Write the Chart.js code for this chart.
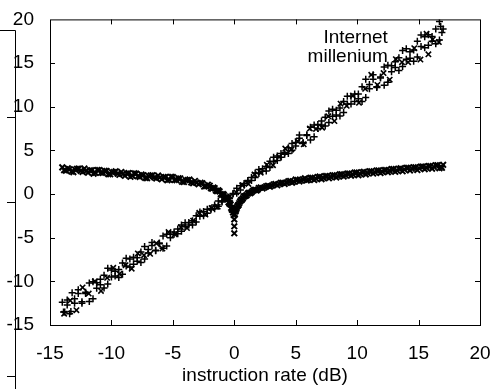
<!DOCTYPE html>
<html>
<head>
<meta charset="utf-8">
<script src="https://cdn.jsdelivr.net/npm/chart.js@4.4.1/dist/chart.umd.min.js"></script>
<style>
  html, body { margin: 0; padding: 0; background: #fff; }
  canvas { display: block; }
</style>
</head>
<body>
<canvas id="chart" width="502" height="389"></canvas>
<script>
// Achsen
const xTitle = "instruction rate (dB)";
const axisMin = -15;
const axisMax = 20;
const tickStep = 5;
const noteLines = ["Internet", "millenium"];
const noteX = 12.5; // Position der Beschriftung in Datenkoordinaten
const noteY = 17.3;

// Diagonale, "+"-Punkte (erste Messreihe)
const diagPlusX = [-14.0, -13.8, -13.6, -13.4, -13.2, -13.0, -12.7, -12.4, -12.1, -11.8, -11.5, -11.2, -10.9, -10.6, -10.3, -10.0,
  -9.7, -9.4, -9.1, -8.8, -8.5, -8.2, -7.9, -7.6, -7.3, -7.0, -6.7, -6.4, -6.1, -5.8, -5.5, -5.2, -4.9, -4.6, -4.3, -4.0,
  -3.7, -3.4, -3.1, -2.8, -2.5, -2.2, -1.9, -1.6, -1.3, -1.0, -0.7, -0.4, -0.1, 0.2, 0.5, 0.8, 1.1, 1.4, 1.7, 2.0,
  2.3, 2.6, 2.9, 3.2, 3.5, 3.8, 4.1, 4.4, 4.7, 5.0, 5.3, 5.6, 5.9, 6.2, 6.5, 6.8, 7.1, 7.4, 7.7, 8.0, 8.3, 8.6,
  8.9, 9.2, 9.5, 9.8, 10.1, 10.4, 10.7, 11.0, 11.3, 11.6, 11.9, 12.2, 12.5, 12.8, 13.1, 13.4, 13.7, 14.0, 14.3,
  14.6, 14.9, 15.2, 15.5, 15.8, 16.1, 16.4, 16.7, 16.9, 16.8, 17.0];
const diagPlusY = [-12.4, -13.5, -12.7, -13.7, -11.3, -12.5, -11.4, -12.5, -11.4, -10.2, -12.0, -10.15, -10.4, -9.3, -10.3, -8.7,
  -9.4, -8.65, -9.2, -7.35, -7.45, -8.05, -7.3, -7.85, -6.0, -6.75, -5.9, -6.5, -5.7, -4.8, -5.95, -4.6, -4.6, -4.0, -4.25, -3.3,
  -3.55, -3.05, -3.2, -2.05, -2.0, -2.2, -1.65, -1.7, -0.8, -0.9, -0.45, -0.5, 0.0, 0.65, 0.45, 1.2, 1.4, 1.9, 1.9, 2.8,
  2.6, 3.15, 3.05, 4.2, 4.35, 4.2, 4.75, 4.65, 5.8, 5.5, 6.4, 5.8, 6.7, 7.65, 6.55, 7.95, 7.9, 8.8, 8.2, 9.7, 9.05, 9.85,
  9.35, 11.2, 11.2, 10.6, 11.45, 10.6, 13.15, 12.05, 13.15, 12.2, 13.3, 14.55, 12.8, 14.7, 14.5, 15.6, 14.6, 16.65, 15.55,
  16.5, 15.7, 18.2, 18.0, 17.05, 18.05, 17.2, 19.75, 18.5, 19.2, 18.9];

// Diagonale, "+"-Punkte (zweite Messreihe)
const diagPlus2X = [-13.9, -13.6, -13.3, -13.0, -12.7, -12.4, -12.1, -11.8, -11.5, -11.2, -10.9, -10.6, -10.3, -10.0, -9.7,
  -9.4, -9.1, -8.8, -8.5, -8.2, -7.9, -7.6, -7.3, -7.0, -6.7, -6.4, -6.1, -5.8, -5.5, -5.2, -4.9, -4.6, -4.3, -4.0, -3.7,
  -3.4, -3.1, -2.8, -2.5, -2.2, -1.9, -1.6, -1.3, -1.0, -0.7, -0.4, -0.1, 0.2, 0.5, 0.8, 1.1, 1.4, 1.7, 2.0, 2.3, 2.6,
  2.9, 3.2, 3.5, 3.8, 4.1, 4.4, 4.7, 5.0, 5.3, 5.6, 5.9, 6.2, 6.5, 6.8, 7.1, 7.4, 7.7, 8.0, 8.3, 8.6, 8.9, 9.2, 9.5,
  9.8, 10.1, 10.4, 10.7, 11.0, 11.3, 11.6, 11.9, 12.2, 12.5, 12.8, 13.1, 13.4, 13.7, 14.0, 14.3, 14.6, 14.9, 15.2,
  15.5, 15.8, 16.1, 16.4, 16.7];
const diagPlus2Y = [-13.5, -12.15, -13.45, -12.0, -10.95, -12.35, -11.25, -12.3, -10.05, -10.8, -9.75, -10.75, -8.5, -9.5, -8.85,
  -9.55, -7.9, -8.25, -8.35, -7.25, -7.7, -6.65, -7.45, -6.35, -5.55, -6.45, -5.6, -6.2, -4.6, -5.0, -4.35, -4.55, -3.55, -3.75, -3.25,
  -3.55, -2.5, -2.55, -2.5, -1.75, -1.8, -1.25, -1.4, -0.8, -0.3, -0.45, 0.05, 0.1, 0.95, 1.0, 1.55, 1.55, 2.4, 2.35, 2.9, 2.65,
  3.75, 3.7, 3.85, 4.65, 4.55, 5.3, 5.0, 5.9, 6.75, 5.9, 6.8, 6.2, 7.9, 7.5, 8.35, 7.8, 9.5, 8.9, 9.6, 8.95, 10.6, 10.3, 10.3,
  11.45, 10.9, 12.3, 11.05, 12.55, 13.65, 12.3, 13.4, 12.45, 14.75, 14.0, 15.15, 14.15, 16.45, 15.45, 16.3, 15.2, 17.5, 16.9,
  16.75, 18.25, 17.5, 18.9, 17.65];

// Diagonale, "x"-Punkte
const diagCrossX = [-13.85, -13.35, -12.85, -12.35, -11.85, -11.35, -10.85, -10.35, -9.85, -9.35, -8.85, -8.35, -7.85, -7.35,
  -6.85, -6.35, -5.85, -5.35, -4.85, -4.35, -3.85, -3.35, -2.85, -2.35, -1.85, -1.35, -0.85, -0.35, 0.15, 0.65, 1.15,
  1.65, 2.15, 2.65, 3.15, 3.65, 4.15, 4.65, 5.15, 5.65, 6.15, 6.65, 7.15, 7.65, 8.15, 8.65, 9.15, 9.65, 10.15, 10.65,
  11.15, 11.65, 12.15, 12.65, 13.15, 13.65, 14.15, 14.65, 15.15, 15.65, 15.8, 16.15, 16.65];
const diagCrossY = [-13.7, -12.2, -13.3, -10.7, -11.4, -10.0, -11.1, -9.6, -8.45, -9.15, -8.15, -8.55, -6.8, -7.0,
  -6.85, -5.65, -6.25, -4.35, -4.6, -3.8, -3.9, -3.05, -2.15, -2.35, -1.6, -1.45, -0.5, -0.25, 0.2, 1.0, 1.15,
  2.25, 2.45, 3.35, 3.3, 4.25, 5.2, 5.1, 6.05, 5.7, 7.5, 7.45, 7.6, 8.9, 8.35, 10.35, 10.1, 11.25, 10.45, 12.05,
  13.65, 12.5, 13.85, 13.1, 15.45, 15.1, 15.1, 16.7, 15.4, 18.35, 16.0, 17.7, 17.4];

// V-Kurve, "x"-Punkte (erste Messreihe)
const vCurveX = [-14.0, -13.7, -13.4, -13.1, -12.8, -12.5, -12.2, -11.9, -11.6, -11.3, -11.0, -10.7, -10.4, -10.1, -9.8, -9.5,
  -9.2, -8.9, -8.6, -8.3, -8.0, -7.7, -7.4, -7.1, -6.8, -6.5, -6.2, -5.9, -5.6, -5.3, -5.0, -4.7, -4.4, -4.1, -3.8, -3.5,
  -3.2, -2.9, -2.6, -2.3, -2.0, -1.8, -1.6, -1.4, -1.2, -1.0, -0.85, -0.7, -0.55, -0.4, -0.3, -0.2, -0.1, -0.05,
  0.0, 0.0, 0.0, 0.05, 0.1, 0.2, 0.3, 0.4, 0.55, 0.7, 0.85, 1.0, 1.2, 1.4, 1.6, 1.8, 2.0, 2.3, 2.6, 2.9, 3.2, 3.5,
  3.8, 4.1, 4.4, 4.7, 5.0, 5.3, 5.6, 5.9, 6.2, 6.5, 6.8, 7.1, 7.4, 7.7, 8.0, 8.3, 8.6, 8.9, 9.2, 9.5, 9.8, 10.1,
  10.4, 10.7, 11.0, 11.3, 11.6, 11.9, 12.2, 12.5, 12.8, 13.1, 13.4, 13.7, 14.0, 14.3, 14.6, 14.9, 15.2, 15.5,
  15.8, 16.1, 16.4, 16.7, 17.0, 16.9];
const vCurveY = [3.05, 2.67, 2.84, 2.51, 2.88, 2.65, 2.92, 2.44, 2.71, 2.43, 2.75, 2.42, 2.64, 2.26, 2.52, 2.33,
  2.53, 2.09, 2.39, 2.10, 2.35, 1.96, 2.16, 1.82, 2.13, 1.90, 2.12, 1.69, 1.94, 1.65, 1.95, 1.59, 1.78, 1.37, 1.60, 1.33,
  1.50, 1.11, 1.23, 0.90, 0.95, 0.61, 0.67, 0.33, 0.30, -0.10, -0.10, -0.50, -0.60, -1.10, -1.20, -1.80, -2.1, -2.4,
  -2.9, -3.7, -4.5, -2.3, -2.0, -1.6, -1.3, -1.05, -0.7, -0.5, -0.25, -0.15, 0.15, 0.2, 0.45, 0.4, 0.7, 0.65, 0.9, 0.85, 1.1, 1.0,
  1.3, 1.15, 1.45, 1.3, 1.65, 1.45, 1.7, 1.55, 1.85, 1.6, 1.95, 1.7, 2.05, 1.8, 2.15, 1.9, 2.25, 2.0, 2.35, 2.1, 2.45, 2.15,
  2.5, 2.25, 2.6, 2.35, 2.7, 2.4, 2.75, 2.5, 2.85, 2.55, 2.9, 2.6, 3.0, 2.7, 3.05, 2.75, 3.15, 2.85,
  3.2, 2.9, 3.3, 2.95, 3.35, 3.0];

// V-Kurve, "x"-Punkte (zweite Messreihe)
const vCurve2X = [-13.85, -13.55, -13.25, -12.95, -12.65, -12.35, -12.05, -11.75, -11.45, -11.15, -10.85, -10.55, -10.25, -9.95,
  -9.65, -9.35, -9.05, -8.75, -8.45, -8.15, -7.85, -7.55, -7.25, -6.95, -6.65, -6.35, -6.05, -5.75, -5.45, -5.15, -4.85,
  -4.55, -4.25, -3.95, -3.65, -3.35, -3.05, -2.75, -2.45, -2.15, -1.9, -1.7, -1.5, -1.3, -1.1, -0.92, -0.77, -0.62, -0.47,
  -0.35, -0.25, -0.15, 0.15, 0.25, 0.35, 0.47, 0.62, 0.77, 0.92, 1.1, 1.3, 1.5, 1.7, 1.9, 2.15, 2.45, 2.75, 3.05, 3.35,
  3.65, 3.95, 4.25, 4.55, 4.85, 5.15, 5.45, 5.75, 6.05, 6.35, 6.65, 6.95, 7.25, 7.55, 7.85, 8.15, 8.45, 8.75, 9.05, 9.35,
  9.65, 9.95, 10.25, 10.55, 10.85, 11.15, 11.45, 11.75, 12.05, 12.35, 12.65, 12.95, 13.25, 13.55, 13.85, 14.15, 14.45,
  14.75, 15.05, 15.35, 15.65, 15.95, 16.25, 16.55, 16.85];
const vCurve2Y = [2.73, 2.95, 2.57, 2.79, 2.91, 2.53, 2.65, 2.72, 2.34, 2.76, 2.43, 2.65, 2.27, 2.49,
  2.60, 2.20, 2.31, 2.36, 1.97, 2.37, 2.03, 2.23, 1.84, 2.05, 2.16, 1.78, 1.90, 1.96, 1.57, 1.97, 1.62,
  1.81, 1.40, 1.58, 1.66, 1.24, 1.30, 1.30, 0.86, 1.07, 0.68, 0.74, 0.40, 0.42, 0.0, 0.0, -0.4, -0.45, -0.95,
  -1.05, -1.6, -1.8, -1.8, -1.4, -1.25, -0.85, -0.65, -0.3, -0.2, 0.05, 0.1, 0.35, 0.5, 0.5, 0.75, 0.75, 0.95, 0.95, 1.15,
  1.15, 1.3, 1.3, 1.5, 1.4, 1.6, 1.55, 1.8, 1.65, 1.85, 1.75, 2.0, 1.85, 2.05, 1.95, 2.15, 2.05, 2.25, 2.15, 2.35,
  2.25, 2.45, 2.3, 2.55, 2.4, 2.6, 2.5, 2.7, 2.55, 2.75, 2.65, 2.85, 2.7, 2.95, 2.8, 3.0, 2.9,
  3.05, 2.95, 3.15, 3.0, 3.2, 3.1, 3.3, 3.1];

const toPoints = (xs, ys) => xs.map((x, i) => ({ x: x, y: ys[i] }));
const fontFamily = "'Liberation Sans', Arial, sans-serif";

// Rahmen, Ticks nach innen, Text und der Rest der Nachbargrafik links
const frame = {
  id: "frame",
  afterDraw(chart) {
    const { ctx, chartArea: a, scales } = chart;
    ctx.save();
    ctx.strokeStyle = "#000";
    ctx.lineWidth = 1;
    ctx.strokeRect(a.left + 0.5, a.top + 0.5, a.right - a.left, a.bottom - a.top);

    ctx.beginPath();
    for (let v = axisMin + tickStep; v < axisMax; v += tickStep) {
      const px = Math.round(scales.x.getPixelForValue(v)) + 0.5;
      ctx.moveTo(px, a.bottom); ctx.lineTo(px, a.bottom - 5);
      ctx.moveTo(px, a.top); ctx.lineTo(px, a.top + 5);
      const py = Math.round(scales.y.getPixelForValue(v)) + 0.5;
      ctx.moveTo(a.left, py); ctx.lineTo(a.left + 5, py);
      ctx.moveTo(a.right, py); ctx.lineTo(a.right - 5, py);
    }
    // abgeschnittene Achse links
    ctx.moveTo(0, 30.5); ctx.lineTo(15.5, 30.5); ctx.lineTo(15.5, 389);
    [117, 202, 376].forEach((t) => { ctx.moveTo(7, t + 0.5); ctx.lineTo(15.5, t + 0.5); });
    ctx.stroke();

    ctx.fillStyle = "#000";
    ctx.font = "19px " + fontFamily;
    ctx.textAlign = "right";
    ctx.textBaseline = "alphabetic";
    const nx = scales.x.getPixelForValue(noteX);
    const ny = scales.y.getPixelForValue(noteY);
    noteLines.forEach((line, i) => ctx.fillText(line, nx, ny + i * 19));
    ctx.restore();
  },
};

const plusStyle = { pointStyle: "cross", pointRadius: 3.5, borderColor: "#000", borderWidth: 1.5 };
const crossStyle = { pointStyle: "crossRot", pointRadius: 3.8, borderColor: "#000", borderWidth: 1.6 };
const vStyle = { pointStyle: "crossRot", pointRadius: 4, borderColor: "#000", borderWidth: 2 };

const canvas = document.querySelector("#chart");
const ctx = canvas.getContext("2d");

new Chart(ctx, {
  type: "scatter",
  data: {
    datasets: [
      { data: toPoints(diagPlusX, diagPlusY), ...plusStyle },
      { data: toPoints(diagPlus2X, diagPlus2Y), ...plusStyle },
      { data: toPoints(diagCrossX, diagCrossY), ...crossStyle },
      { data: toPoints(vCurveX, vCurveY), ...vStyle },
      { data: toPoints(vCurve2X, vCurve2Y), ...vStyle },
    ],
  },
  options: {
    responsive: false,
    animation: false,
    devicePixelRatio: 1,
    layout: { padding: { top: 14, right: 22, left: 0, bottom: 0 } },
    scales: {
      x: {
        type: "linear",
        min: axisMin,
        max: axisMax,
        grid: { display: false },
        border: { display: false },
        ticks: { stepSize: tickStep, color: "#000", font: { family: fontFamily, size: 19 }, padding: 9, maxRotation: 0 },
        title: { display: true, text: xTitle, color: "#000", font: { family: fontFamily, size: 19 }, padding: { top: 0, bottom: 2 } },
        afterFit: (scale) => { scale.height = 64; },
      },
      y: {
        type: "linear",
        min: axisMin,
        max: axisMax,
        grid: { display: false },
        border: { display: false },
        ticks: { stepSize: tickStep, color: "#000", font: { family: fontFamily, size: 19 }, padding: 8 },
        afterFit: (scale) => { scale.width = 50; },
      },
    },
    plugins: {
      legend: { display: false },
      tooltip: { enabled: false },
    },
  },
  plugins: [frame],
});
</script>
</body>
</html>
